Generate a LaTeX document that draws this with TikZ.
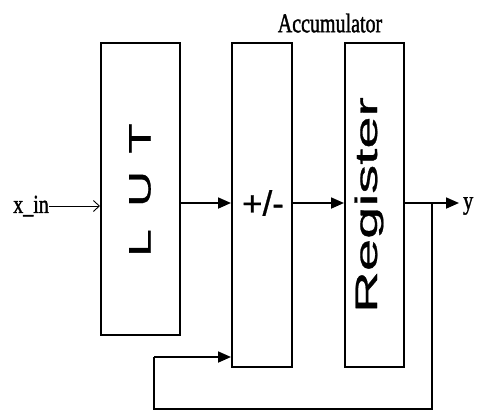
\documentclass[tikz,border=0pt]{standalone}
\usepackage{fontspec}
\setmainfont[FakeBold=1.6]{Liberation Serif}
\newfontfamily\arialf[FakeBold=0.7]{Liberation Sans}
\usetikzlibrary{arrows.meta}
\begin{document}
\begin{tikzpicture}[x=1pt,y=-1pt,
  blockbox/.style={draw=black,line width=2pt,rectangle,inner sep=0pt,fill=white},
  conn/.style={line width=1.8pt,-{Triangle[length=13pt,width=11pt]}},
  line/.style={line width=1.8pt},
  serifl/.style={font=\fontsize{20}{22}\selectfont,inner sep=0pt},
  sansl/.style={font=\arialf\fontsize{31}{33}\selectfont,inner sep=0pt}]
\useasboundingbox (0,0) rectangle (478,413);
\fill[white] (0,0) rectangle (478,413);
% blocks
\node[blockbox,minimum width=79pt,minimum height=292pt] (lut) at (140.5,189) {};
\node[blockbox,minimum width=60pt,minimum height=324pt] (add) at (262,205) {};
\node[blockbox,minimum width=59pt,minimum height=324pt] (reg) at (374.5,205) {};
% labels
\node[sansl,rotate=90] (lutt) at (140,190) {\scalebox{1.6}[1]{L\hspace{0.45em}U\hspace{0.35em}T}};
\node[sansl,rotate=90] (regt) at (369,205) {\scalebox{1.87}[1]{Register}};
\node[sansl,font=\arialf\fontsize{35}{36}\selectfont] (pm) at (263,203) {+/-};
\node[serifl] (acc) at (330,23) {\scalebox{1}[1.35]{Accumulator}};
\node[serifl,anchor=east] (xin) at (49,206) {\scalebox{1}[1.3]{x\_in}};
\node[serifl,anchor=west] (yout) at (463,206) {\scalebox{1}[1.3]{y}};
% coordinates
\coordinate (m) at (0,203);
\coordinate (br) at (432,203);
\coordinate (bl) at (432,409);
\coordinate (cl) at (154,409);
\coordinate (fb) at (154,357);
% connectors
\draw[line width=0.9pt,-{Straight Barb[length=6pt,width=11pt]}] (xin.east) -- (lut.west |- xin.east);
\draw[conn] (lut.east |- m) -- (add.west |- m);
\draw[conn] (add.east |- m) -- (reg.west |- m);
\draw[conn] (reg.east |- m) -- ([xshift=-4pt]yout.west |- m);
\draw[line] (br) -- (bl) -- (cl) -- (fb);
\draw[conn] (fb) -- (add.west |- fb);
\end{tikzpicture}
\end{document}
